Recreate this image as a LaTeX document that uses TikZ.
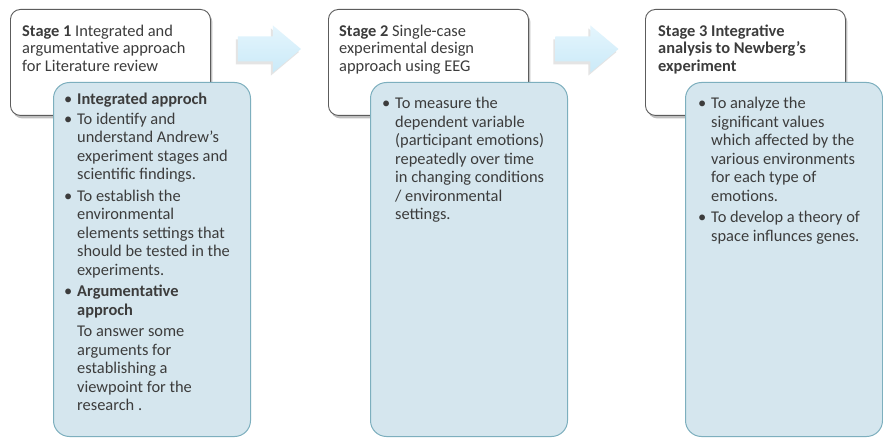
\documentclass[tikz,border=0pt]{standalone}
\usepackage{fontspec}
\setmainfont{Carlito}
\usetikzlibrary{shadows,calc}

\definecolor{bodytext}{HTML}{3C3C3C}
\definecolor{stageline}{HTML}{5C5C5C}
\definecolor{notefill}{HTML}{D5E6EE}
\definecolor{noteline}{HTML}{7DAFBE}
\definecolor{arrowlight}{HTML}{E4F5FD}
\definecolor{arrowdark}{HTML}{CBEAF8}

\newcommand\bul{\llap{\textbullet\hspace{5pt}}}

\tikzset{
  stagebox/.style={draw=stageline, line width=0.9pt, fill=white,
    rounded corners=10pt, anchor=north west, minimum width=200pt,
    minimum height=106pt, inner sep=0pt,
    drop shadow={shadow xshift=2pt, shadow yshift=-3pt, opacity=0.45, fill=black!55}},
  notebox/.style={draw=noteline, line width=1pt, fill=notefill,
    rounded corners=16pt, anchor=north west, minimum width=197pt,
    minimum height=354pt, inner sep=0pt},
  txt/.style={anchor=north west, inner sep=0pt, align=left, text=bodytext,
    font=\fontsize{16.4}{18.5}\selectfont},
  headtxt/.style={txt, font=\fontsize{16.4}{17.6}\selectfont},
  blockarrow/.pic={
    \fill[black!30, opacity=0.35]
      (-2,-9.5) -- (33,-9.5) -- (33,-20.5) -- (61,3) -- (33,26.5) -- (33,15.5) -- (-2,15.5) -- cycle;
    \shade[top color=arrowlight, bottom color=arrowdark]
      (0,-12.5) -- (35,-12.5) -- (35,-23.5) -- (63,0) -- (35,23.5) -- (35,12.5) -- (0,12.5) -- cycle;
  }
}

\begin{document}
\begin{tikzpicture}[x=1pt, y=-1pt]
  \fill[white] (0,0) rectangle (883,441);
  \useasboundingbox (0,0) rectangle (883,441);

  % stage headers
  \node[stagebox] (s1) at (10,9) {};
  \node[stagebox] (s2) at (328,9) {};
  \node[stagebox] (s3) at (645,9) {};

  % block arrows between the stages
  \path ($(s1.north east)!0.5!(s2.north west)$) coordinate (a1);
  \path (a1) ++(-31.5,40) pic {blockarrow};
  \path ($(s2.north east)!0.5!(s3.north west)$) coordinate (a2);
  \path (a2) ++(-31.5,40) pic {blockarrow};

  % detail panels
  \node[notebox] (n1) at (53,82) {};
  \node[notebox] (n2) at (370,82) {};
  \node[notebox] (n3) at (685,82) {};

  % header texts
  \node[headtxt] (h1) at (22,24.5) {\textbf{Stage 1} Integrated and\\argumentative approach\\for Literature review};
  \node[headtxt] (h2) at (339,24.5) {\textbf{Stage 2} Single-case\\experimental design\\approach using EEG};
  \node[headtxt, font=\fontsize{16.4}{17.6}\selectfont\bfseries] (h3) at (658,24.5) {Stage 3 Integrative\\analysis to Newberg's\\experiment};

  % panel texts
  \node[txt] (l1) at (77,93) {%
    \bul\textbf{Integrated approch}\\[1pt]
    \bul To identify and\\
    understand Andrew's\\
    experiment stages and\\
    scientific findings.\\[3pt]
    \bul To establish the\\
    environmental\\
    elements settings that\\
    should be tested in the\\
    experiments.\\[3pt]
    \bul\textbf{Argumentative}\\
    \textbf{approch}\\[3pt]
    To answer some\\
    arguments for\\
    establishing a\\
    viewpoint for the\\
    research .};
  \node[txt] (l2) at (395,97) {%
    \bul To measure the\\
    dependent variable\\
    (participant emotions)\\
    repeatedly over time\\
    in changing conditions\\
    / environmental\\
    settings.};
  \node[txt] (l3) at (711,97) {%
    \bul To analyze the\\
    significant values\\
    which affected by the\\
    various environments\\
    for each type of\\
    emotions.\\[3pt]
    \bul To develop a theory of\\
    space influnces genes.};
\end{tikzpicture}
\end{document}
